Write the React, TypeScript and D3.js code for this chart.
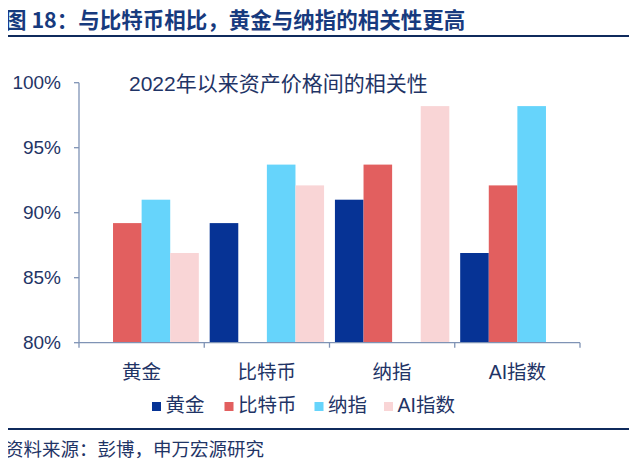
import React from "react";
import * as d3 from "d3";

const categories = ["黄金", "比特币", "纳指", "AI指数"];
const seriesNames = ["黄金", "比特币", "纳指", "AI指数"];
const goldValues: (number | null)[] = [null, 89.2, 91.0, 86.9];
const bitcoinValues: (number | null)[] = [89.2, null, 93.7, 92.1];
const nasdaqValues: (number | null)[] = [91.0, 93.7, null, 98.2];
const aiValues: (number | null)[] = [86.9, 92.1, 98.2, null];
const yTicks = [80, 85, 90, 95, 100];
const colors = ["#063395", "#e25f5f", "#66d4fb", "#f9d5d6"];

const titleText = "图 18：与比特币相比，黄金与纳指的相关性更高";
const subtitleText = "2022年以来资产价格间的相关性";
const sourceText = "资料来源：彭博，申万宏源研究";

const W = 637;
const H = 469;
const FONT = "'Liberation Sans', Arial, 'Noto Sans CJK SC', sans-serif";
const CJK = "'Noto Sans CJK SC', sans-serif";
const NAVY = "#1f3466";

export default function App() {
  const allSeries = [goldValues, bitcoinValues, nasdaqValues, aiValues];
  const left = 79;
  const right = 580;
  const y = d3.scaleLinear().domain([80, 100]).range([342.7, 82.7]);
  const x0 = d3.scaleBand<string>().domain(categories).range([left, right]).paddingInner(0).paddingOuter(0);
  const x1 = d3
    .scaleBand<string>()
    .domain(seriesNames)
    .range([0, x0.bandwidth()])
    .paddingInner(0)
    .paddingOuter(0.19);

  const legendX = [152, 224.5, 314.5, 384];
  const tickXs = [left, ...categories.map((c) => (x0(c) ?? 0) + x0.bandwidth())];

  return (
    <div style={{ margin: -8, width: W, height: H, overflow: "hidden" }}>
      <svg width={W} height={H} style={{ display: "block", background: "#fff" }}>
        <text x={5} y={28} fontFamily={CJK} fontWeight={700} fontSize={21.5} fill="#173a7e">
          {titleText}
        </text>
        <line x1={5} x2={637} y1={36} y2={36} stroke="#0f2a5c" strokeWidth={2} />

        <text x={129} y={91} fontFamily={FONT} fontSize={21} fill={NAVY}>
          {subtitleText}
        </text>

        {/* bars */}
        {allSeries.map((vals, si) =>
          vals.map((v, ci) =>
            v == null ? null : (
              <rect
                key={`${si}-${ci}`}
                x={(x0(categories[ci]) ?? 0) + (x1(seriesNames[si]) ?? 0)}
                y={y(v)}
                width={x1.bandwidth()}
                height={y(80) - y(v)}
                fill={colors[si]}
              />
            )
          )
        )}

        {/* y axis */}
        <line x1={left} x2={left} y1={y(100)} y2={y(80)} stroke="#7f93b5" strokeWidth={1.3} />
        {yTicks.map((t) => (
          <g key={t}>
            <line x1={left - 5} x2={left} y1={y(t)} y2={y(t)} stroke="#7f93b5" strokeWidth={1.3} />
            <text
              x={61}
              y={y(t)}
              dy="0.35em"
              textAnchor="end"
              fontFamily={FONT}
              fontSize={19}
              fill={NAVY}
            >
              {t}%
            </text>
          </g>
        ))}

        {/* x axis */}
        <line x1={left} x2={right} y1={y(80)} y2={y(80)} stroke="#7f93b5" strokeWidth={1.3} />
        {tickXs.map((tx, i) => (
          <line
            key={`tick-${i}`}
            x1={tx}
            x2={tx}
            y1={y(80)}
            y2={y(80) + 5}
            stroke="#7f93b5"
            strokeWidth={1.3}
          />
        ))}
        {categories.map((c) => (
          <text
            key={`lab-${c}`}
            x={(x0(c) ?? 0) + x0.bandwidth() / 2}
            y={372.5}
            dy="0.35em"
            textAnchor="middle"
            fontFamily={FONT}
            fontSize={19.5}
            fill={NAVY}
          >
            {c}
          </text>
        ))}

        {/* legend */}
        {seriesNames.map((s, i) => (
          <g key={`leg-${s}`}>
            <rect x={legendX[i]} y={402} width={9} height={9} fill={colors[i]} />
            <text x={legendX[i] + 13.5} y={405} dy="0.35em" fontFamily={FONT} fontSize={19.5} fill={NAVY}>
              {s}
            </text>
          </g>
        ))}

        <line x1={5} x2={637} y1={429} y2={429} stroke="#0f2a5c" strokeWidth={2} />
        <text x={5} y={456} fontFamily={CJK} fontSize={18.5} fill={NAVY}>
          {sourceText}
        </text>
      </svg>
    </div>
  );
}
